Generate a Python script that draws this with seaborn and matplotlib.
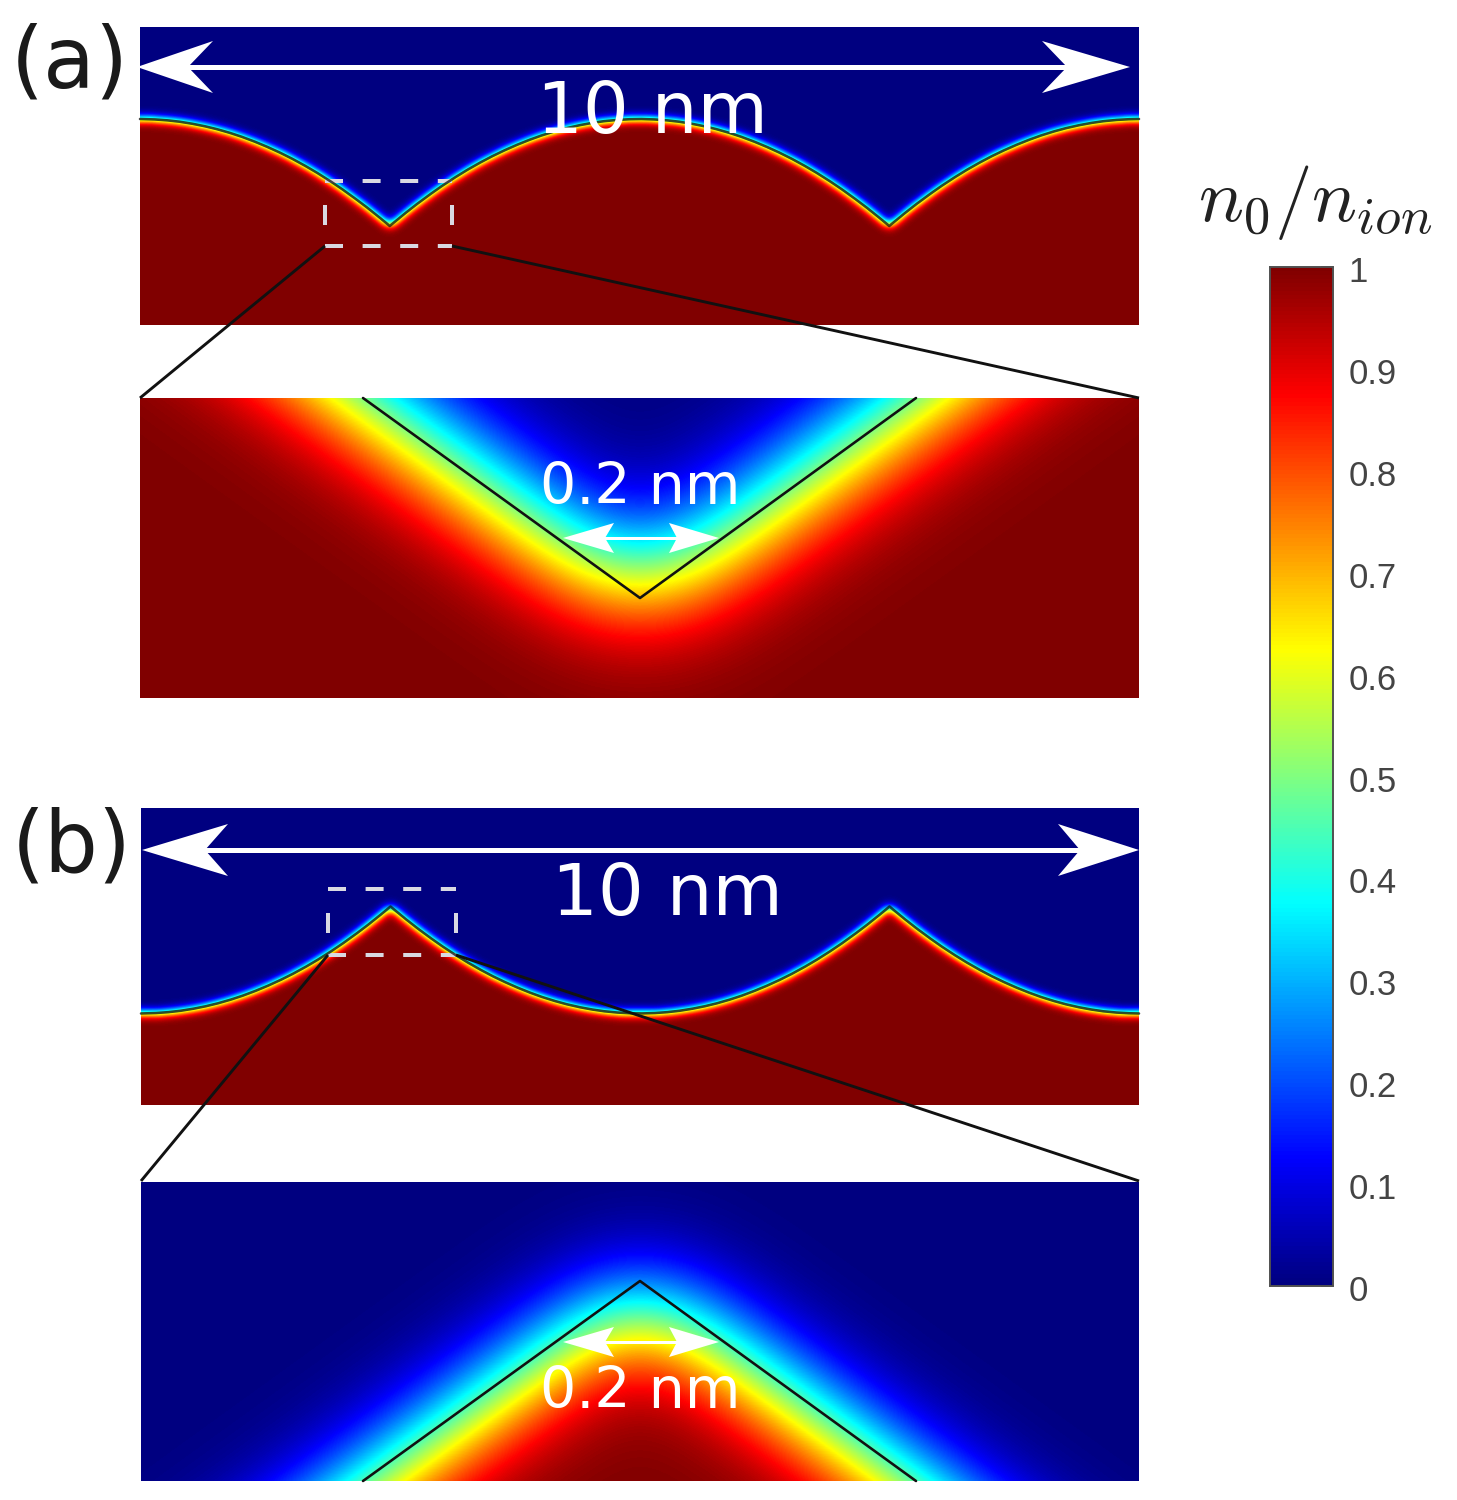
import numpy as np
import matplotlib
matplotlib.use("Agg")
import matplotlib.pyplot as plt
from matplotlib.patches import Polygon
from matplotlib.colors import LinearSegmentedColormap
from matplotlib.ticker import FormatStrFormatter
from matplotlib.transforms import ScaledTranslation
import seaborn as sns

# Values. The density fields themselves are too dense to
# transcribe cell by cell, so they are rebuilt from the read-off surface outline
# and a read-off transition width (an approximation of the reference's field).
SURFACE_X_NM = [0, .125, .25, .375, .5, .625, .75, .875, 1, 1.125, 1.25, 1.375,
                1.5, 1.625, 1.75, 1.875, 2, 2.125, 2.25, 2.375, 2.5]
SURFACE_DEPTH_NM = [0, .003, .011, .024, .043, .067, .096, .131, .171, .217, .268, .324,
                    .385, .452, .524, .602, .685, .774, .867, .966, 1.07]
PERIOD_NM = 5.0
WIDTH_NM = 10.0
CREST_A_NM = 0.92     # crest below top of panel (a)
TROUGH_B_NM = 2.055   # trough below top of panel (b)
V_X = [363, 640, 916]
V_A_Y = [398, 598, 398]
V_B_Y = [1481, 1281, 1481]
CBAR_TICKS = [0, .1, .2, .3, .4, .5, .6, .7, .8, .9, 1]
JET_STOPS = [0, .125, .375, .625, .875, 1]
JET_COLORS = [(0, 0, .5), (0, 0, 1), (0, 1, 1), (1, 1, 0), (1, 0, 0), (.5, 0, 0)]

W, H = 1457, 1500
sns.set_theme(style="white")
plt.rcParams['mathtext.fontset'] = 'cm'
fig = plt.figure(figsize=(W / 100, H / 100), dpi=100)
JET = LinearSegmentedColormap.from_list("matlab_jet", list(zip(JET_STOPS, JET_COLORS)), N=256)


def box(x0, y0, x1, y1):
    return [x0 / W, 1 - y1 / H, (x1 - x0) / W, (y1 - y0) / H]


def blur(mask, sigma):
    ny, nx = mask.shape
    fy = np.fft.fftfreq(ny)[:, None]
    fx = np.fft.rfftfreq(nx)[None, :]
    kern = np.exp(-2 * (np.pi * sigma) ** 2 * (fx ** 2 + fy ** 2))
    return np.clip(np.fft.irfft2(np.fft.rfft2(mask) * kern, s=mask.shape), 0, 1)


def outline(x_nm):
    u = np.mod(x_nm, PERIOD_NM)
    u = np.where(u > PERIOD_NM / 2, PERIOD_NM - u, u)
    return np.interp(u, SURFACE_X_NM, SURFACE_DEPTH_NM)


def wide_field(x0, y0, x1, y1, surface, sigma_px=5.0):
    pad = 30
    nx, ny = x1 - x0, y1 - y0
    xs = (np.arange(-pad, nx + pad) + .5) * WIDTH_NM / nx
    ys = (np.arange(-pad, ny + pad) + .5) / 100.0
    return blur((ys[:, None] > surface(xs)[None, :]).astype(float), sigma_px)[pad:-pad, pad:-pad]


def surf_a(x):
    return CREST_A_NM + outline(x)


def surf_b(x):
    return TROUGH_B_NM - outline(x)


def zoom_field(x0, y0, x1, y1, vx, vy, sigma, shift):
    pad = 200
    xs = np.arange(x0 - pad, x1 + pad) + .5
    ys = np.arange(y0 - pad, y1 + pad) + .5
    slope = (vy[0] - vy[1]) / abs(vx[0] - vx[1])
    line = vy[1] + slope * np.abs(xs - vx[1]) + shift
    mask = (ys[:, None] > line[None, :]).astype(float)
    return blur(mask, sigma)[pad:-pad, pad:-pad]


def panel(rect, field, cbar_ax=None):
    ax = fig.add_axes(box(*rect))
    sns.heatmap(field, ax=ax, cmap=JET, vmin=0, vmax=1,
                cbar=cbar_ax is not None, cbar_ax=cbar_ax,
                cbar_kws={"ticks": CBAR_TICKS} if cbar_ax is not None else None,
                xticklabels=False, yticklabels=False)
    ax.set_xlabel("")
    ax.set_ylabel("")
    return ax


cax = fig.add_axes(box(1270, 267, 1333, 1286))
RA, ZA = (140, 27, 1139, 325), (140, 398, 1139, 698)
RB, ZB = (141, 808, 1139, 1105), (141, 1182, 1139, 1481)
panel(RA, wide_field(*RA, surf_a), cbar_ax=cax)
panel(ZA, zoom_field(*ZA, V_X, V_A_Y, 60, 0))
panel(RB, wide_field(*RB, surf_b))
panel(ZB, zoom_field(*ZB, V_X, V_B_Y, 54, 9))

cax.tick_params(direction="in", right=True, length=9, width=1.2, color="#303030",
                labelsize=25, labelcolor="#444444", pad=11)
cax.yaxis.set_major_formatter(FormatStrFormatter("%g"))
shift_down = ScaledTranslation(0, -2 / 100, fig.dpi_scale_trans)
for t in cax.get_yticklabels():
    t.set_fontfamily("Liberation Sans")
    t.set_transform(t.get_transform() + shift_down)
for s in cax.spines.values():
    s.set_visible(True)
    s.set_edgecolor("#505050")
    s.set_linewidth(1.2)

ov = fig.add_axes([0, 0, 1, 1], zorder=10)
ov.set_xlim(0, W)
ov.set_ylim(H, 0)
ov.axis("off")
ov.patch.set_alpha(0)
PX = 0.72


def dbl_arrow(x0, x1, y, left, right, half, lw):
    ov.plot([x0 + left[1] / 2, x1 - right[1] / 2], [y, y], color="white", lw=lw * PX,
            solid_capstyle="butt")
    for tip, d, (back, notch) in ((x0, 1, left), (x1, -1, right)):
        ov.add_patch(Polygon([(tip, y), (tip + d * back, y - half),
                              (tip + d * notch, y), (tip + d * back, y + half)],
                             closed=True, fc="white", ec="none"))


dbl_arrow(137, 1130, 67, (76, 51), (88, 63), 26, 5)
dbl_arrow(142, 1139, 850, (86, 63), (81, 59), 26, 5)
dbl_arrow(563, 719, 538, (51, 42), (50, 42), 15, 3)
dbl_arrow(563, 719, 1342, (51, 42), (50, 42), 15, 3)


def dashed(x0, y0, x1, y1):
    style = dict(color="#d9d9e2", lw=4 * PX, solid_capstyle="butt", dash_capstyle="butt")
    for y in (y0, y1):
        ov.plot([x0, x1], [y, y], linestyle=(0, (4.5, 4.9)), **style)
    for x in (x0, x1):
        ov.plot([x, x], [y0, y1], linestyle=(5, (5, 6)), **style)


dashed(325, 181, 452, 246)
dashed(328, 889, 456, 955)

LINE = dict(color="#111111", lw=2.9 * PX, solid_capstyle="butt")
for xs, ys in (([325, 140], [246, 398]), ([452, 1139], [246, 398]),
               ([328, 141], [955, 1181]), ([456, 1139], [955, 1181])):
    ov.plot(xs, ys, **LINE)
ov.plot(V_X, V_A_Y, color="#111111", lw=2.6 * PX)
ov.plot(V_X, V_B_Y, color="#111111", lw=2.6 * PX)

# dark line that follows the surface in the wide panels
xn = np.linspace(0, WIDTH_NM, 1601)
ov.plot(140 + xn * 99.9, 27 + 100 * surf_a(xn), color="#101010", lw=2.6 * PX, alpha=.75)
ov.plot(141 + xn * 99.8, 808 + 100 * surf_b(xn), color="#101010", lw=2.6 * PX, alpha=.75)

WHITE = dict(color="white", ha="center", va="center", family="DejaVu Sans")
ov.text(652, 113, "10 nm", fontsize=52, **WHITE)
ov.text(667, 895, "10 nm", fontsize=52, **WHITE)
ov.text(640, 488, "0.2 nm", fontsize=41, **WHITE)
ov.text(640, 1392, "0.2 nm", fontsize=41, **WHITE)
DARK = dict(color="#1a1a1a", ha="center", va="center", family="DejaVu Sans")
ov.text(70, 64, "(a)", fontsize=61, **DARK)
ov.text(72, 848, "(b)", fontsize=61, **DARK)
ov.text(1315, 203, r"$n_0/n_{ion}$", fontsize=54, color="#222222", ha="center", va="center")

fig.savefig("out.png", dpi=100)
